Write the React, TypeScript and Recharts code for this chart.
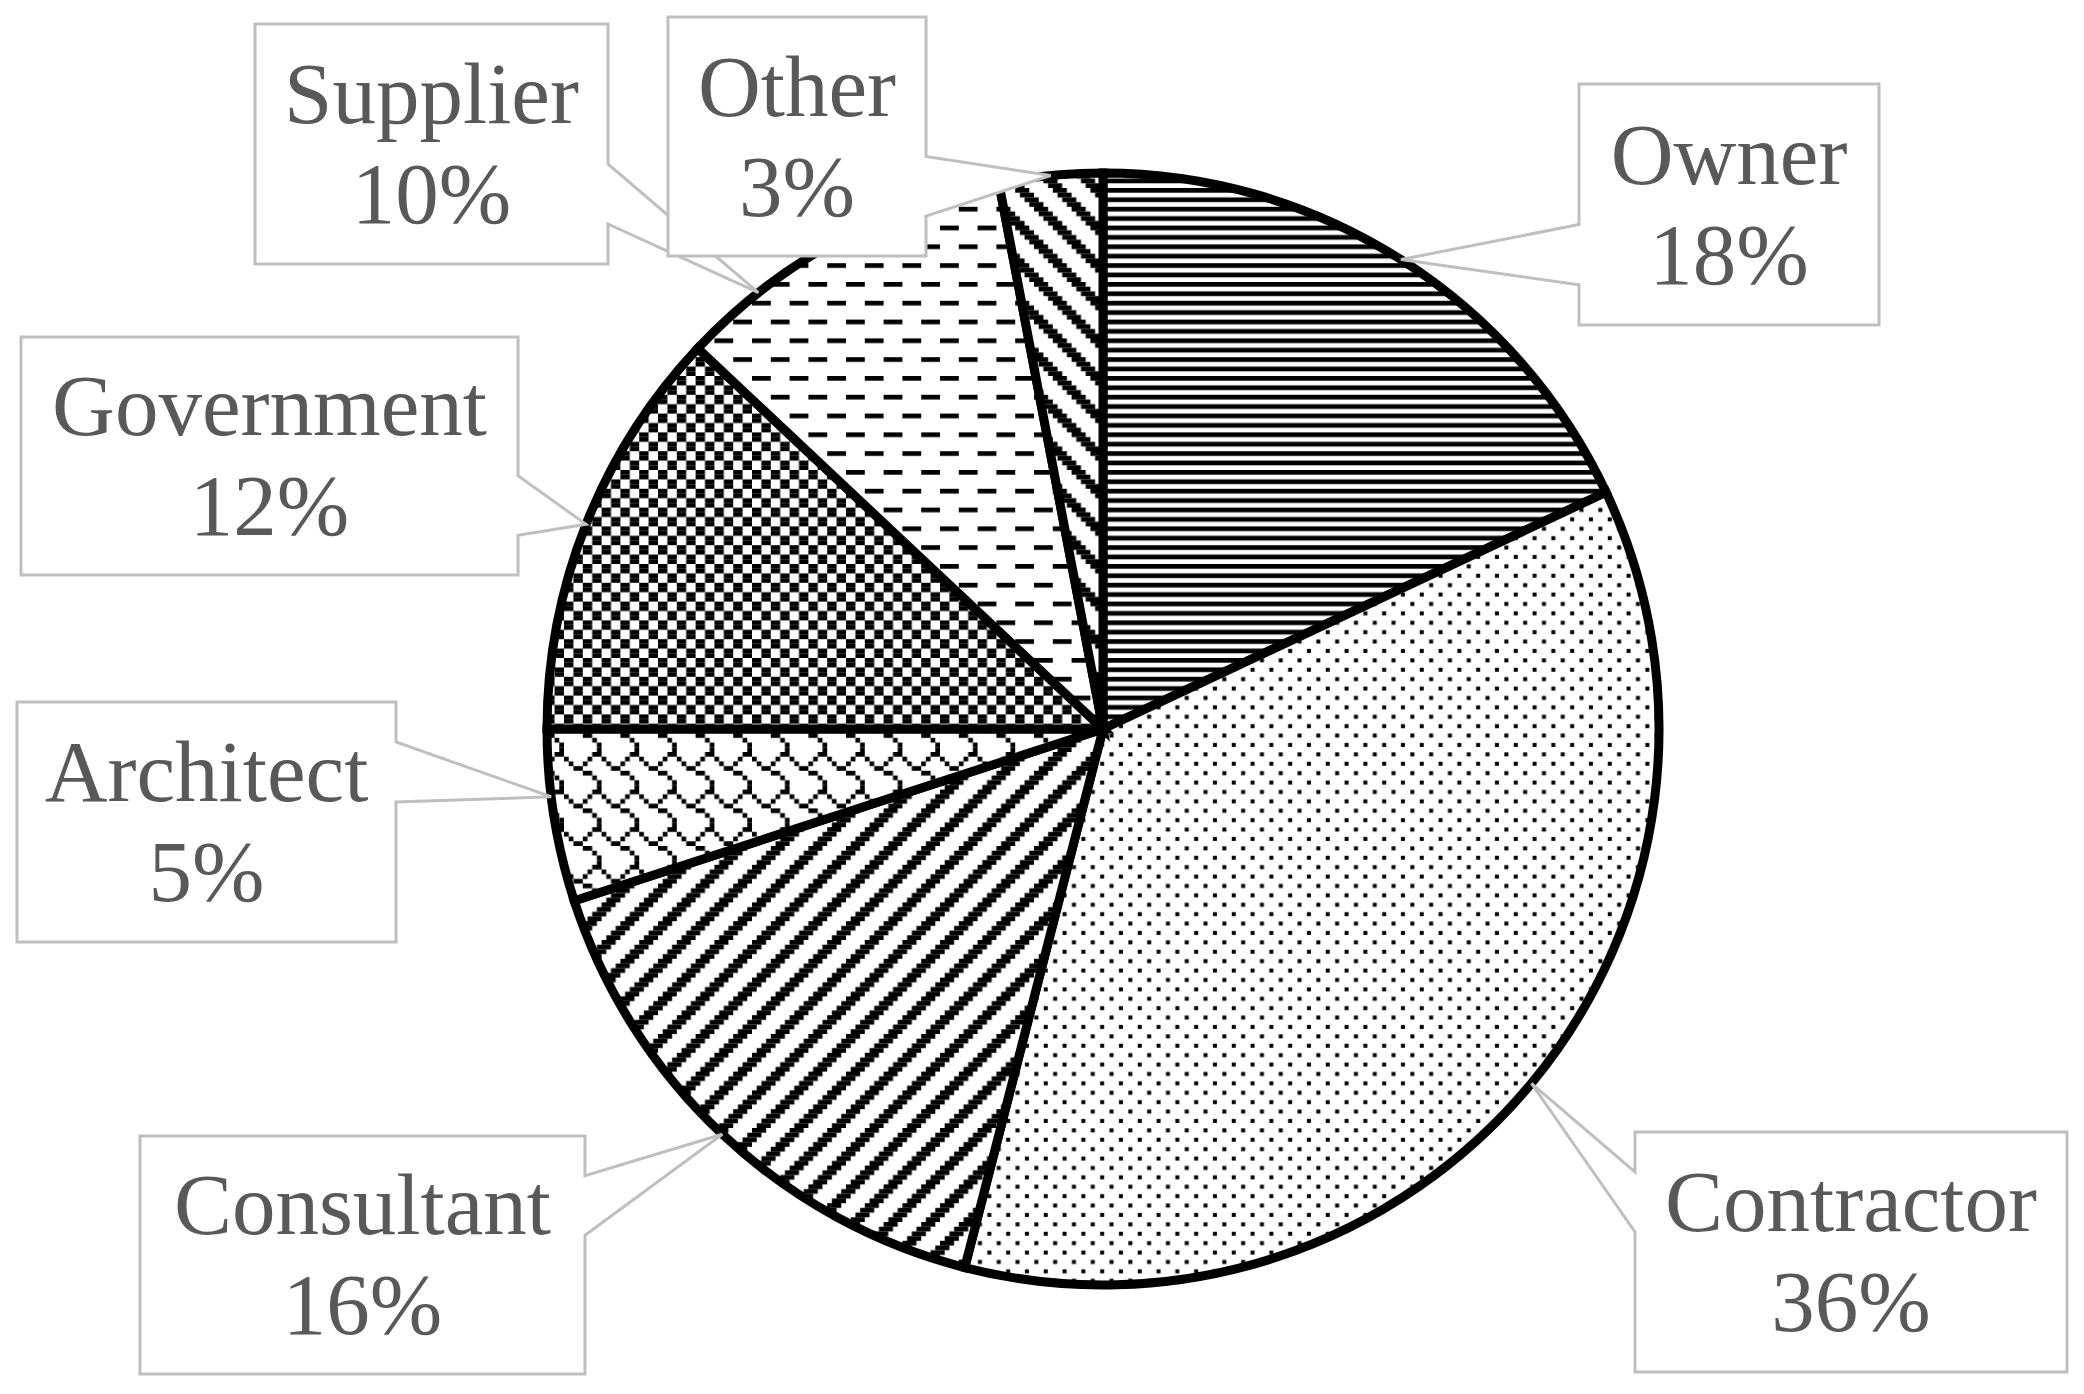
import React from 'react';
import { PieChart, Pie, Cell } from 'recharts';

// ---- data ----
const categories = ['Owner', 'Contractor', 'Consultant', 'Architect', 'Government', 'Supplier', 'Other'];
const shares = [18, 36, 16, 5, 12, 10, 3];
const data = categories.map((name, i) => ({ name, value: shares[i] }));

// ---- layout of the callout boxes (label placement only) ----
const calloutBoxes = [
  { x: 1579, y: 84, w: 300, h: 241, tipShift: 0 },
  { x: 1635, y: 1132, w: 432, h: 240, tipShift: 0 },
  { x: 140, y: 1136, w: 445, h: 238, tipShift: 0 },
  { x: 17, y: 702, w: 379, h: 240, tipShift: -2 },
  { x: 21, y: 337, w: 497, h: 238, tipShift: 0 },
  { x: 255, y: 24, w: 353, h: 240, tipShift: 9.5 },
  { x: 668, y: 17, w: 258, h: 239, tipShift: 0 },
];

// ---- Excel-like 8x8 fill patterns ----
const BIT = 4.7;
const patternBitmaps: Record<string, { rows: string[]; dot?: number }> = {
  owner: { rows: ['########', '........', '########', '........', '########', '........', '########', '........'] },
  contractor: { rows: ['#...#...', '........', '..#...#.', '........', '#...#...', '........', '..#...#.', '........'], dot: 4 },
  consultant: { rows: ['###.....', '##.....#', '#.....##', '.....###', '....###.', '...###..', '..###...', '.###....'] },
  architect: { rows: ['......##', '#....#..', '.#..#...', '..##....', '....##..', '......#.', '.......#', '.......#'] },
  government: { rows: ['##..##..', '##..##..', '..##..##', '..##..##', '##..##..', '##..##..', '..##..##', '..##..##'] },
  supplier: { rows: ['####....', '........', '........', '........', '....####', '........', '........', '........'] },
  other: { rows: ['###.....', '.###....', '..###...', '...###..', '....###.', '.....###', '#.....##', '##.....#'] },
};
const patternIds = ['owner', 'contractor', 'consultant', 'architect', 'government', 'supplier', 'other'];

function BitmapPattern({ id, rows, dot }: { id: string; rows: string[]; dot?: number }) {
  const w = rows[0].length * BIT;
  const h = rows.length * BIT;
  const rects: React.ReactNode[] = [];
  rows.forEach((row, r) => {
    if (dot) {
      for (let c = 0; c < row.length; c++) {
        if (row[c] === '#') {
          const off = (BIT - dot) / 2;
          rects.push(<rect key={`${r}-${c}`} x={c * BIT + off} y={r * BIT + off} width={dot} height={dot} fill="#000" />);
        }
      }
      return;
    }
    let c = 0;
    while (c < row.length) {
      if (row[c] === '#') {
        let e = c;
        while (e < row.length && row[e] === '#') e++;
        rects.push(<rect key={`${r}-${c}`} x={c * BIT} y={r * BIT} width={(e - c) * BIT} height={BIT} fill="#000" />);
        c = e;
      } else c++;
    }
  });
  return (
    <pattern id={`p-${id}`} patternUnits="userSpaceOnUse" width={w} height={h}>
      <rect x={0} y={0} width={w} height={h} fill="#fff" />
      {rects}
    </pattern>
  );
}

// wedgeRectCallout geometry (as in Office preset shape)
function calloutPath(b: { x: number; y: number; w: number; h: number }, tx: number, ty: number) {
  const { x, y, w, h } = b;
  const hc = x + w / 2;
  const vc = y + h / 2;
  const dx = tx - hc;
  const dy = ty - vc;
  const dq = (dx * h) / w;
  if (Math.abs(dy) > Math.abs(dq)) {
    const g1 = dx > 0 ? 7 : 2;
    const g2 = dx > 0 ? 10 : 5;
    const x1 = x + (w * g1) / 12;
    const x2 = x + (w * g2) / 12;
    if (dy < 0) {
      return `M${x},${y} L${x1},${y} L${tx},${ty} L${x2},${y} L${x + w},${y} L${x + w},${y + h} L${x},${y + h} Z`;
    }
    return `M${x},${y} L${x + w},${y} L${x + w},${y + h} L${x2},${y + h} L${tx},${ty} L${x1},${y + h} L${x},${y + h} Z`;
  }
  const g1 = dy > 0 ? 7 : 2;
  const g2 = dy > 0 ? 10 : 5;
  const y1 = y + (h * g1) / 12;
  const y2 = y + (h * g2) / 12;
  if (dx < 0) {
    return `M${x},${y} L${x + w},${y} L${x + w},${y + h} L${x},${y + h} L${x},${y2} L${tx},${ty} L${x},${y1} Z`;
  }
  return `M${x},${y} L${x + w},${y} L${x + w},${y1} L${tx},${ty} L${x + w},${y2} L${x + w},${y + h} L${x},${y + h} Z`;
}

const FONT = "'Liberation Serif', 'Times New Roman', serif";

const renderCallout = (props: any) => {
  const { cx, cy, midAngle, outerRadius, index } = props;
  const b = calloutBoxes[index];
  const name = props.payload?.name ?? props.name;
  const value = props.payload?.value ?? props.value;
  const a = ((midAngle + b.tipShift) * Math.PI) / 180;
  const tx = cx + outerRadius * Math.cos(-a);
  const ty = cy + outerRadius * Math.sin(-a);
  const hc = b.x + b.w / 2;
  const vc = b.y + b.h / 2;
  return (
    <g key={`callout-${index}`}>
      <path d={calloutPath(b, tx, ty)} fill="#ffffff" stroke="#bfbfbf" strokeWidth={3} strokeLinejoin="miter" />
      <text x={hc} y={vc - 21} textAnchor="middle" fontFamily={FONT} fontSize={87} fill="#595959">
        {name}
      </text>
      <text x={hc} y={vc + 79} textAnchor="middle" fontFamily={FONT} fontSize={87} fill="#595959">
        {`${value}%`}
      </text>
    </g>
  );
};

export default function App() {
  return (
    <div style={{ position: 'absolute', left: 0, top: 0, width: 2084, height: 1394, background: '#ffffff' }}>
      <PieChart width={2084} height={1394} margin={{ top: 0, right: 0, bottom: 0, left: 0 }}>
        <defs>
          {patternIds.map((id) => (
            <BitmapPattern key={id} id={id} rows={patternBitmaps[id].rows} dot={patternBitmaps[id].dot} />
          ))}
        </defs>
        <Pie
          data={data}
          dataKey="value"
          nameKey="name"
          cx={1103}
          cy={729}
          outerRadius={556}
          startAngle={90}
          endAngle={-270}
          stroke="#000000"
          strokeWidth={9}
          label={renderCallout}
          labelLine={false}
          isAnimationActive={false}
        >
          {data.map((d, i) => (
            <Cell key={d.name} fill={`url(#p-${patternIds[i]})`} stroke="#000000" strokeWidth={9} />
          ))}
        </Pie>
      </PieChart>
    </div>
  );
}
